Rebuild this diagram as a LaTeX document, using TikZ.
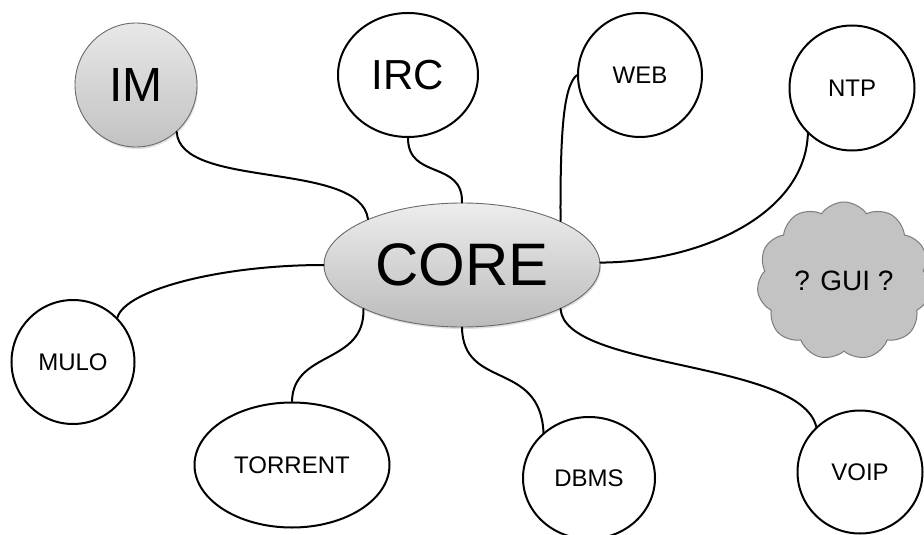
\documentclass[tikz,border=0pt]{standalone}
\usepackage{fontspec}
\setmainfont{Liberation Sans}
\usetikzlibrary{shapes.geometric,shapes.symbols,shadows}

\definecolor{coretop}{HTML}{EDEDED}
\definecolor{corebot}{HTML}{BBBBBB}
\definecolor{imtop}{HTML}{E8E8E8}
\definecolor{imbot}{HTML}{C2C2C2}
\definecolor{rim}{HTML}{6A6A6A}
\definecolor{cloudfill}{HTML}{C3C3C3}
\definecolor{cloudrim}{HTML}{7C7C7C}

\tikzset{
  bubble/.style={ellipse, draw=black, line width=2pt, fill=white,
    inner sep=0pt, minimum width=#1},
  hub/.style={ellipse, draw=rim, line width=0.9pt, inner sep=0pt,
    top color=coretop, bottom color=corebot,
    drop shadow={opacity=0.25, shadow xshift=1pt, shadow yshift=-2pt}},
  graybubble/.style={ellipse, draw=rim, line width=0.9pt, inner sep=0pt,
    top color=imtop, bottom color=imbot,
    drop shadow={opacity=0.25, shadow xshift=1pt, shadow yshift=-2pt}},
  link/.style={line width=2pt, line cap=round},
  small/.style={font=\fontsize{24}{28}\selectfont}
}

\begin{document}
\begin{tikzpicture}[x=1pt,y=-1pt]
\useasboundingbox (0,0) rectangle (924,535);

% central hub
\node[hub, minimum width=276pt, minimum height=124pt,
      font=\fontsize{60}{70}\selectfont] (core) at (462,265) {CORE};

% satellites
\node[graybubble, minimum width=122pt, minimum height=124pt,
      font=\fontsize{48}{56}\selectfont] (im) at (136,85) {IM};
\node[bubble=140pt, minimum height=124pt,
      font=\fontsize{42}{50}\selectfont] (irc) at (408,75) {IRC};
\node[bubble=124pt, minimum height=124pt, small] (web) at (640,75) {WEB};
\node[bubble=125pt, minimum height=125pt, small] (ntp) at (852,88) {NTP};
\node[bubble=123pt, minimum height=124pt, small] (mulo) at (73,362) {MULO};
\node[bubble=195pt, minimum height=125pt, small] (torrent) at (292,465) {TORRENT};
\node[bubble=132pt, minimum height=122pt, small] (dbms) at (589,478) {DBMS};
\node[bubble=125pt, minimum height=123pt, small] (voip) at (860,472) {VOIP};

% undecided part
\node[cloud, cloud puffs=11, cloud puff arc=110, cloud ignores aspect,
      draw=cloudrim, line width=1pt, fill=cloudfill, inner sep=0pt,
      minimum width=174pt, minimum height=158pt,
      font=\fontsize{28}{32}\selectfont] (gui) at (844,281) {? GUI ?};

% connectors
\draw[link] (im.311) .. controls (180,190) and (360,160) .. (core.154.6);
\draw[link] (irc.270) .. controls (408,180) and (463,160) .. (core.90);
\draw[link] (web.180) .. controls (565,85) and (560,120) .. (core.24.9);
\draw[link] (ntp.226) .. controls (805,215) and (700,262) .. (core.1);
\draw[link] (mulo.45) .. controls (125,290) and (220,265) .. (core.180);
\draw[link] (torrent.90) .. controls (293,350) and (365,365) .. (core.204.9);
\draw[link] (dbms.135) .. controls (540,360) and (463,390) .. (core.270);
\draw[link] (voip.134) .. controls (800,360) and (565,370) .. (core.336);
\end{tikzpicture}
\end{document}
